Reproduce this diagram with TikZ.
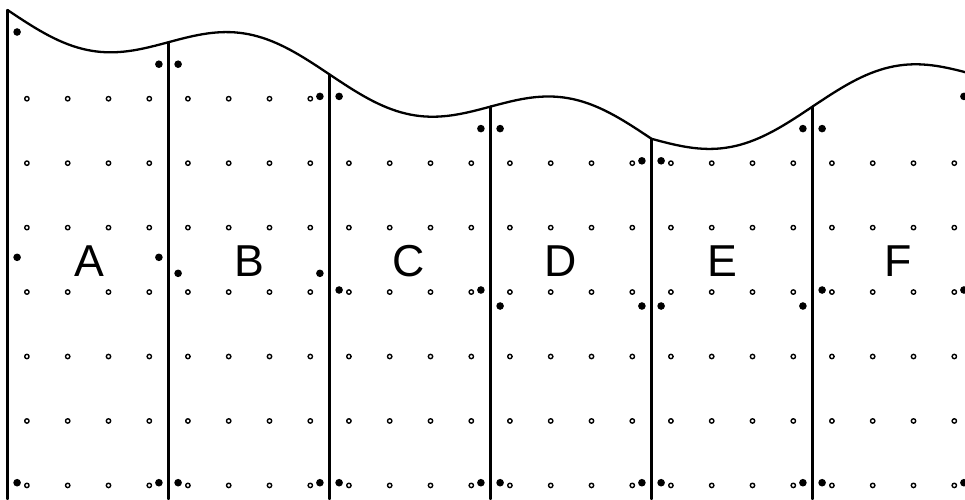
\documentclass[tikz,border=0pt]{standalone}
\usepackage{fontspec}
\setmainfont{Liberation Sans}
\usetikzlibrary{calc}

\begin{document}
\begin{tikzpicture}[x=1pt,y=-1pt,line join=round,line cap=round,
    wall/.style={line width=2.3pt},
    ring/.style={line width=1.4pt},
    lab/.style={anchor=base,inner sep=0pt,font=\fontsize{44.7}{50}\selectfont}]
  \useasboundingbox (0,0) rectangle (965,499);
  \clip (0,0) rectangle (965,499);

  % wavy top edge
  \draw[wall] plot[domain=7.5:651.5,samples=140] (\x,{10+0.2*(\x-7.5)+24*sin((\x-7.5)/322*360)})
    -- plot[domain=651.5:973.5,samples=70] (\x,{138.8-0.2*(\x-651.5)+24*sin((\x-651.5)/322*360)});

  % walls and their top points
  \foreach \i/\top in {0/10,1/42.2,2/74.4,3/106.6,4/138.8,5/106.6,6/74.4}{
    \coordinate (L\i) at ({7.5+161*\i},\top);
  }
  \foreach \i in {0,...,5}
    \draw[wall] (L\i) -- (L\i |- 0,499);

  % small rings
  \foreach \j in {0,...,5}
    \foreach \dx in {19.4,60.2,101,141.8}
      \foreach \k in {0,...,6}{
        \ifnum\j>1 \ifnum\k=0 \else
          \draw[ring] ({7.5+161*\j+\dx},{98.7+64.45*\k}) circle (2.2);
        \fi \else
          \draw[ring] ({7.5+161*\j+\dx},{98.7+64.45*\k}) circle (2.2);
        \fi
      }

  % dots beside the walls: top and bottom
  \foreach \i in {0,...,6}{
    \ifnum\i>0
      \fill ($(L\i)+(-9.6,22)$) circle (3.8);
      \fill ($(L\i |- 0,482.7)+(-9.6,0)$) circle (3.8);
    \fi
    \fill ($(L\i)+(9.6,22)$) circle (3.8);
    \fill ($(L\i |- 0,482.7)+(9.6,0)$) circle (3.8);
  }
  % dots beside the walls: middle
  \foreach \j/\mid [evaluate=\j as \n using int(\j+1)] in {0/257.3,1/273.3,2/290,3/306,4/306,5/290}{
    \fill ($(L\j |- 0,\mid)+(9.6,0)$) circle (3.8);
    \fill ($(L\n |- 0,\mid)+(-9.6,0)$) circle (3.8);
  }

  \node[lab] (A) at (89,276) {A};
  \node[lab] (B) at (249,276) {B};
  \node[lab] (C) at (408.5,276) {C};
  \node[lab] (D) at (561,276) {D};
  \node[lab] (E) at (722.5,276) {E};
  \node[lab] (F) at (898,276) {F};
\end{tikzpicture}
\end{document}
